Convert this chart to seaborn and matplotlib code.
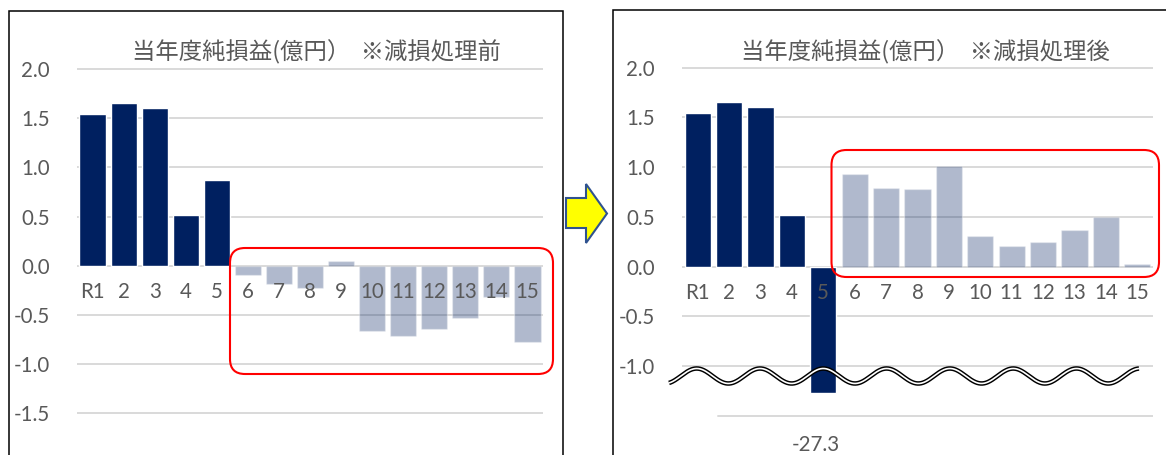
import numpy as np
import pandas as pd
import matplotlib
matplotlib.use("Agg")
import matplotlib.pyplot as plt
from matplotlib.patches import Rectangle, FancyBboxPatch, Polygon
from matplotlib.lines import Line2D
from matplotlib.transforms import IdentityTransform
import seaborn as sns

# ---------------- data ----------------
categories = ["R1", "2", "3", "4", "5", "6", "7", "8", "9", "10", "11", "12", "13", "14", "15"]
period = ["actual"] * 5 + ["plan"] * 10
before_values = [1.54, 1.655, 1.60, 0.515, 0.87, -0.09, -0.19, -0.23, 0.05,
                 -0.66, -0.72, -0.64, -0.53, -0.32, -0.78]
after_values = [1.545, 1.655, 1.605, 0.52, -27.3, 0.93, 0.79, 0.78, 1.015,
                0.31, 0.21, 0.25, 0.37, 0.50, 0.03]
left_ticks = [2.0, 1.5, 1.0, 0.5, 0.0, -0.5, -1.0, -1.5]
right_ticks = [2.0, 1.5, 1.0, 0.5, 0.0, -0.5, -1.0]
title_before = "当年度純損益(億円）  ※減損処理前"
title_after = "当年度純損益(億円）  ※減損処理後"

# broken axis: values beyond the break are drawn down to this display level
BREAK_LIMIT = -1.5
BREAK_DISPLAY = -1.27
after_display = [v if v > BREAK_LIMIT else BREAK_DISPLAY for v in after_values]

# ---------------- style ----------------
W, H = 1166, 455
DPI = 100
sns.set_style("white")
plt.rcParams["font.family"] = ["Lato", "Noto Sans CJK JP", "DejaVu Sans"]
NAVY = "#002060"
GRID = "#D9D9D9"
TEXT = "#595959"
CJK = ["Noto Sans CJK JP", "DejaVu Sans"]

fig = plt.figure(figsize=(W / DPI, H / DPI), dpi=DPI)


def add_axes(x0, x1, ytop, zero_px, px_per_unit):
    ax = fig.add_axes([x0 / W, 0, (x1 - x0) / W, (H - ytop) / H])
    ax.set_ylim(-(H - zero_px) / px_per_unit, (zero_px - ytop) / px_per_unit)
    return ax


def draw_panel(ax, values, ticks, label_y):
    df = pd.DataFrame({"cat": categories, "val": values, "grp": period})
    for grp, alpha in [("actual", 1.0), ("plan", 0.31)]:
        sub = df[df["grp"] == grp]
        sns.barplot(data=sub, x="cat", y="val", order=categories, ax=ax,
                    color=NAVY, alpha=alpha, saturation=1, width=0.84,
                    errorbar=None, zorder=2)
    ax.set_xlim(-0.5, len(categories) - 0.5)
    for t in ticks:
        ax.axhline(t, color=GRID, lw=1.4, zorder=1)
    ax.set_yticks(ticks)
    ax.set_yticklabels([f"{t:.1f}" for t in ticks])
    ax.tick_params(axis="y", length=0, pad=19.5, labelsize=14.8, labelcolor=TEXT)
    ax.set_xticks([])
    ax.set_xlabel("")
    ax.set_ylabel("")
    for s in ax.spines.values():
        s.set_visible(False)
    ax.patch.set_alpha(0)
    for i, c in enumerate(categories):
        ax.text(i, label_y, c, ha="center", va="center", fontsize=14.8,
                color=TEXT, zorder=5)


# left panel
axL = add_axes(77, 543, 60, 265.7, 98.3)
draw_panel(axL, before_values, left_ticks, -0.268)

# right panel
axR = add_axes(682, 1153, 60, 266.7, 99.5)
draw_panel(axR, after_display, right_ticks, -0.264)
axR.axhline(-1.5, xmin=(718 - 682) / (1153 - 682), color=GRID, lw=1.4, zorder=1)
axR.text(4 - 0.23, -1.79, f"{after_values[4]:.1f}", ha="center", va="center",
         fontsize=14.8, color=TEXT)

# titles
fig.text(316.5 / W, 1 - 52 / H, title_before, ha="center", va="center",
         fontsize=16.8, color=TEXT, family=CJK)
fig.text(925.5 / W, 1 - 52 / H, title_after, ha="center", va="center",
         fontsize=16.8, color=TEXT, family=CJK)

ID = IdentityTransform()


def Y(y):
    return H - y


# panel borders
fig.add_artist(Rectangle((9, -10), 563 - 9, Y(11) + 10, fill=False, ec="black",
                         lw=1.1, transform=ID))
fig.add_artist(Rectangle((613, -10), 700, Y(9.5) + 10, fill=False, ec="black",
                         lw=1.1, transform=ID))

# red highlight boxes
fig.add_artist(FancyBboxPatch((230, Y(374)), 553 - 230, 374 - 248,
                              boxstyle="round,pad=0,rounding_size=15",
                              fill=False, ec="#FF0000", lw=1.5, transform=ID))
fig.add_artist(FancyBboxPatch((831.5, Y(277)), 1159 - 831.5, 277 - 150,
                              boxstyle="round,pad=0,rounding_size=15",
                              fill=False, ec="#FF0000", lw=1.5, transform=ID))

# axis-break wave (double line)
wx = np.linspace(669, 1139, 800)
wy = 376 - 7.5 * np.cos(2 * np.pi * (wx - 760) / 63.3)
fig.add_artist(Line2D(wx, H - wy, color="black", lw=3.3, transform=ID,
                      solid_capstyle="butt"))
fig.add_artist(Line2D(wx, H - wy, color="white", lw=1.2, transform=ID,
                      solid_capstyle="butt"))

# yellow arrow
arrow_pts = [(566, 198), (586, 198), (586, 184), (607, 213.5), (586, 243),
             (586, 228), (566, 228)]
fig.add_artist(Polygon([(x, Y(y)) for x, y in arrow_pts], closed=True,
                       fc="#FFFF00", ec="#2F528F", lw=1.5, transform=ID))

fig.savefig("out.png", dpi=DPI)
